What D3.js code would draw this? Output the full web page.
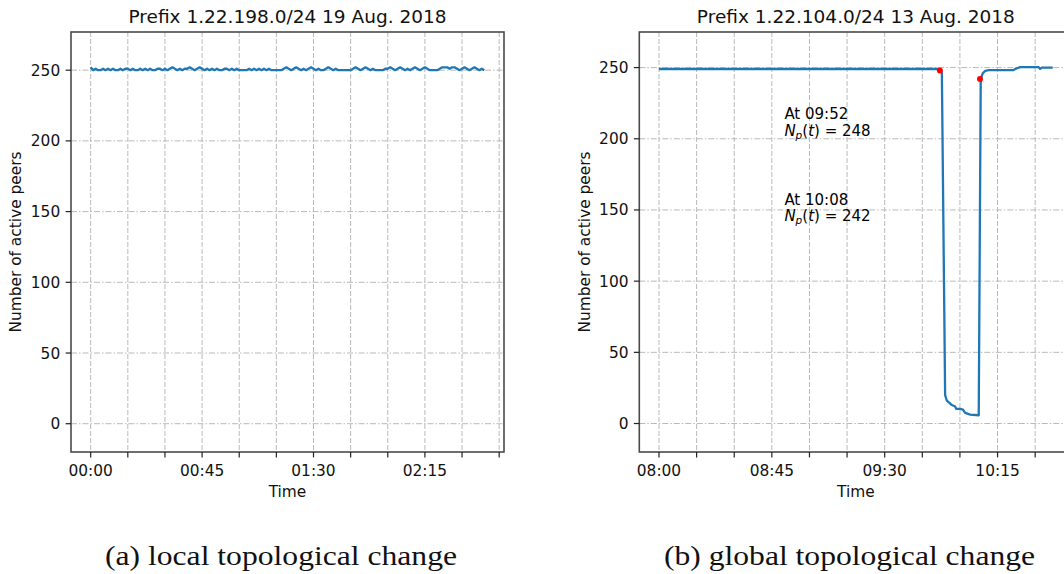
<!DOCTYPE html>
<html>
<head>
<meta charset="utf-8">
<script src="https://cdnjs.cloudflare.com/ajax/libs/d3/7.8.5/d3.min.js"></script>
<style>
body{margin:0;background:#fff;}
svg{display:block;}
</style>
</head>
<body>
<div id="chart"></div>
<script>
// ---- data ----
var titleA = "Prefix 1.22.198.0/24 19 Aug. 2018";
var startA = "2018-08-19 00:00";
// one sample per minute from 00:00
var peersA = [
    252,250,251,250,250,251,250,251,250,251,
    250,250,251,250,251,251,250,251,250,250,
    251,250,251,250,251,250,250,251,251,250,
    251,250,251,252,251,250,251,250,251,251,
    252,251,250,251,252,251,250,251,250,251,
    250,251,250,250,251,251,250,251,250,251,
    250,250,250,250,251,250,251,250,251,250,
    251,250,251,250,250,250,250,250,251,252,
    251,250,251,252,251,250,251,250,251,252,
    251,250,251,250,250,251,252,251,250,251,
    250,250,250,250,250,250,251,252,251,250,
    251,252,251,250,251,250,250,250,250,251,
    251,252,251,250,251,252,251,250,251,250,
    251,252,251,250,251,252,251,250,250,250,
    250,251,252,252,252,251,252,252,251,250,
    251,252,251,250,251,252,251,250,251,250
];

var titleB = "Prefix 1.22.104.0/24 13 Aug. 2018";
var startB = "2018-08-13 08:00";
// minutes after 08:00 and active peers
var minutesB = [0, 111.6, 112.3, 112.8, 114.1, 114.8, 115.8, 116.8, 118.1, 118.5, 120.1, 121.2, 122.1, 124.1, 127.5,
                128.3, 129.1, 130.1, 131.4, 141.4, 142.1, 144, 151.4, 152, 152.7, 157];
var peersB = [249, 249, 248, 246, 20, 16, 14.5, 13, 12, 10.3, 10.3, 9.8, 7.5, 6.3, 5.8,
              242, 246, 247.7, 248.2, 248.2, 249.1, 250.3, 250.3, 249.1, 250, 250];

var markTimes = ["09:52", "10:08"];
var markPeers = [248, 242];

var yTicks = [0, 50, 100, 150, 200, 250];
var captions = ["(a) local topological change", "(b) global topological change"];

// ---- drawing ----
var W = 1064, H = 574;
var FONT = "'DejaVu Sans', sans-serif";
var parse = d3.timeParse("%Y-%m-%d %H:%M");
var fmt = d3.timeFormat("%H:%M");

var svg = d3.select("#chart").append("svg")
    .attr("width", W).attr("height", H)
    .style("background", "#fff");

function drawPanel(o){
    var times = o.points.map(function(d){return d.t;});
    var ext = d3.extent(times);
    var pad = (ext[1] - ext[0]) * 0.05;
    var x = d3.scaleTime()
        .domain([new Date(+ext[0] - pad), new Date(+ext[1] + pad)])
        .range([o.left, o.right]);
    var y = d3.scaleLinear().domain(o.ylim).range([o.bottom, o.top]);
    var g = svg.append("g");
    var xt = x.ticks(d3.timeMinute.every(15));

    // grid
    g.append("g").selectAll("line").data(xt).enter().append("line")
        .attr("x1", function(d){return x(d);}).attr("x2", function(d){return x(d);})
        .attr("y1", o.top).attr("y2", o.bottom)
        .attr("stroke", "#b9b9b9").attr("stroke-width", 1)
        .attr("stroke-dasharray", "5,2");
    g.append("g").selectAll("line").data(yTicks).enter().append("line")
        .attr("x1", o.left).attr("x2", o.right)
        .attr("y1", function(d){return y(d);}).attr("y2", function(d){return y(d);})
        .attr("stroke", "#b9b9b9").attr("stroke-width", 1)
        .attr("stroke-dasharray", "6,2,1.5,2");

    // series
    g.append("path").datum(o.points)
        .attr("d", d3.line().x(function(d){return x(d.t);}).y(function(d){return y(d.v);}))
        .attr("fill", "none").attr("stroke", "#1f77b4")
        .attr("stroke-width", 2.3).attr("stroke-linejoin", "round");

    if(o.marks){
        g.append("g").selectAll("circle").data(o.marks).enter().append("circle")
            .attr("cx", function(d){return x(d.t);})
            .attr("cy", function(d){return y(d.v);})
            .attr("r", 3).attr("fill", "#ff0000");
        o.marks.forEach(function(d){
            var bx = x(o.annoAt), by = y(d.at) - 3;
            g.append("text").text("At " + fmt(d.t))
                .attr("x", bx).attr("y", by - 16.5)
                .attr("font-family", FONT).attr("font-size", "15px").attr("fill", "#000");
            var t = g.append("text").attr("x", bx).attr("y", by)
                .attr("font-family", FONT).attr("font-size", "15px").attr("fill", "#000");
            t.append("tspan").text("N").attr("font-style", "italic");
            t.append("tspan").text("p").attr("font-style", "italic")
                .attr("font-size", "10.5px").attr("dy", 3);
            t.append("tspan").text("(").attr("dy", -3);
            t.append("tspan").text("t").attr("font-style", "italic");
            t.append("tspan").text(") = " + d.v);
        });
    }

    // frame
    g.append("rect").attr("x", o.left).attr("y", o.top)
        .attr("width", o.right - o.left).attr("height", o.bottom - o.top)
        .attr("fill", "none").attr("stroke", "#4a4a4a").attr("stroke-width", 1.6);

    // x ticks
    g.append("g").selectAll("line").data(xt).enter().append("line")
        .attr("x1", function(d){return x(d);}).attr("x2", function(d){return x(d);})
        .attr("y1", o.bottom).attr("y2", o.bottom + 5.4)
        .attr("stroke", "#222").attr("stroke-width", 1.2);
    g.append("g").selectAll("text").data(xt.filter(function(d,i){return i % 3 == 0;}))
        .enter().append("text")
        .text(function(d){return fmt(d);})
        .attr("x", function(d){return x(d);}).attr("y", o.bottom + 24)
        .attr("text-anchor", "middle").attr("font-family", FONT)
        .attr("font-size", "15.4px").attr("fill", "#111");

    // y ticks
    g.append("g").selectAll("line").data(yTicks).enter().append("line")
        .attr("x1", o.left - 5.4).attr("x2", o.left)
        .attr("y1", function(d){return y(d);}).attr("y2", function(d){return y(d);})
        .attr("stroke", "#222").attr("stroke-width", 1.2);
    g.append("g").selectAll("text").data(yTicks).enter().append("text")
        .text(function(d){return d;})
        .attr("x", o.left - 10.8).attr("y", function(d){return y(d) + 5.5;})
        .attr("text-anchor", "end").attr("font-family", FONT)
        .attr("font-size", "15.4px").attr("fill", "#111");

    // labels
    var cx = (o.left + o.right) / 2;
    g.append("text").text(o.title)
        .attr("x", cx).attr("y", 23)
        .attr("text-anchor", "middle").attr("font-family", FONT)
        .attr("font-size", "18.5px").attr("fill", "#111");
    g.append("text").text("Time")
        .attr("x", cx).attr("y", o.bottom + 45)
        .attr("text-anchor", "middle").attr("font-family", FONT)
        .attr("font-size", "15.4px").attr("fill", "#111");
    g.append("text").text("Number of active peers")
        .attr("transform", "translate(" + o.ylabelX + "," + ((o.top + o.bottom) / 2) + ") rotate(-90)")
        .attr("text-anchor", "middle").attr("font-family", FONT)
        .attr("font-size", "15.4px").attr("fill", "#111");

    g.append("text").text(o.caption)
        .attr("x", o.captionX).attr("y", 565)
        .attr("text-anchor", "middle")
        .attr("font-family", "'Liberation Serif', 'Times New Roman', serif")
        .attr("font-size", "28px").attr("fill", "#111")
        .attr("textLength", o.captionW).attr("lengthAdjust", "spacingAndGlyphs");
}

var t0A = parse(startA);
var pointsA = peersA.map(function(v, i){
    return {t: d3.timeMinute.offset(t0A, i), v: v};
});
var t0B = parse(startB);
var pointsB = minutesB.map(function(m, i){
    return {t: new Date(+t0B + m * 60000), v: peersB[i]};
});
var day = "2018-08-13 ";
var marks = markTimes.map(function(s, i){
    return {t: parse(day + s), v: markPeers[i], at: [200, 140][i]};
});

drawPanel({
    points: pointsA, title: titleA, caption: captions[0],
    left: 71, right: 504, top: 32, bottom: 452, ylim: [-20, 277],
    ylabelX: 21, captionX: 281, captionW: 352
});
drawPanel({
    points: pointsB, title: titleB, caption: captions[1], marks: marks,
    annoAt: parse(day + "08:50"),
    left: 639.3, right: 1072.4, top: 32, bottom: 452, ylim: [-20, 275],
    ylabelX: 589.5, captionX: 849.5, captionW: 371
});
</script>
</body>
</html>
